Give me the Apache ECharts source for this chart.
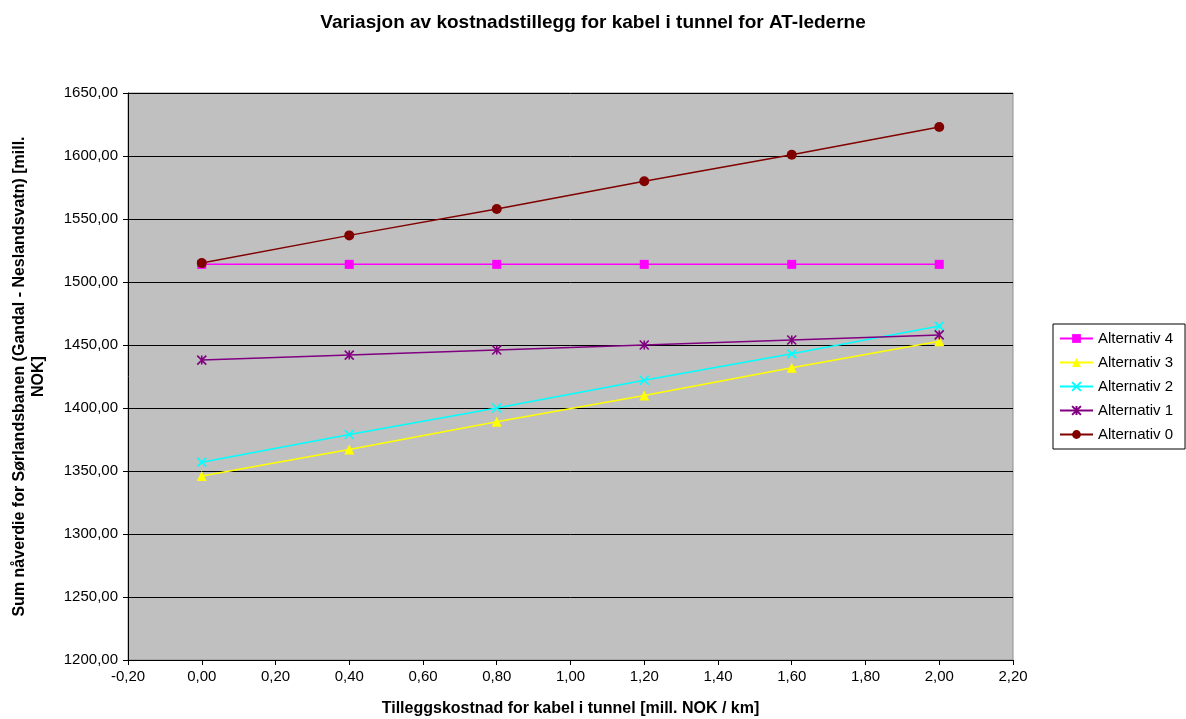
<!DOCTYPE html>
<html><head><meta charset="utf-8">
<script src="https://cdn.jsdelivr.net/npm/echarts@6/dist/echarts.min.js"></script>
<style>html,body{margin:0;padding:0;background:#fff}#c{width:1186px;height:719px}</style>
</head><body><div id="c"></div>
<script>
const xValues = [0, 0.4, 0.8, 1.2, 1.6, 2.0];
const alt4 = [1514, 1514, 1514, 1514, 1514, 1514];
const alt3 = [1346, 1367, 1389, 1410, 1432, 1453];
const alt2 = [1357, 1379, 1400, 1422, 1443, 1465];
const alt1 = [1438, 1442, 1446, 1450, 1454, 1458];
const alt0 = [1515, 1537, 1558, 1580, 1601, 1623];
const seriesNames = ['Alternativ 4', 'Alternativ 3', 'Alternativ 2', 'Alternativ 1', 'Alternativ 0'];
const titleText = 'Variasjon av kostnadstillegg for kabel i tunnel for AT-lederne';
const xName = 'Tilleggskostnad for kabel i tunnel [mill. NOK / km]';
const yName = 'Sum nåverdie for Sørlandsbanen (Gandal - Neslandsvatn) [mill.\nNOK]';

const FONT = '"Liberation Sans", Arial, sans-serif';
const pair = arr => xValues.map((x, i) => [x, arr[i]]);
const fmt = v => v.toFixed(2).replace('.', ',');
const CROSS = 'path://M0,0L10,10M10,0L0,10';
const STAR = 'path://M0,0L10,10M10,0L0,10M5,0L5,10';

function mk(name, data, color, symbol, size, stroke) {
  return {
    name, type: 'line', data: pair(data), symbol, symbolSize: size,
    lineStyle: { color, width: 1.5 },
    itemStyle: stroke ? { color: 'rgba(0,0,0,0)', borderColor: color, borderWidth: 1.6 } : { color },
    emphasis: { disabled: true }, animation: false
  };
}

const chart = echarts.init(document.getElementById('c'));
chart.setOption({
  backgroundColor: '#fff',
  animation: false,
  title: { text: titleText, left: 'center', top: 8, textStyle: { fontFamily: FONT, fontSize: 19, fontWeight: 'bold', color: '#000' } },
  grid: { left: 128, right: 173, top: 93, bottom: 59, containLabel: false, outerBoundsMode: 'none', show: true, backgroundColor: '#c0c0c0', borderColor: '#909090', borderWidth: 1 },
  legend: {
    orient: 'vertical', left: 1053, top: 324, width: 132,
    backgroundColor: '#fff', borderColor: '#000', borderWidth: 1,
    padding: [7, 12, 7, 6], itemGap: 9, itemWidth: 33, itemHeight: 11,
    textStyle: { fontFamily: FONT, fontSize: 15, color: '#000' },
    data: seriesNames
  },
  xAxis: {
    type: 'value', min: -0.2, max: 2.2, interval: 0.2,
    name: xName, nameLocation: 'middle', nameGap: 41,
    nameTextStyle: { fontFamily: FONT, fontSize: 16, fontWeight: 'bold', color: '#000' },
    axisLine: { onZero: false, lineStyle: { color: '#000' } },
    axisTick: { show: true, length: 5, lineStyle: { color: '#000' } },
    axisLabel: { fontFamily: FONT, fontSize: 15, color: '#000', formatter: fmt, margin: 9 },
    splitLine: { show: false }
  },
  yAxis: {
    type: 'value', min: 1200, max: 1650, interval: 50,
    name: yName, nameLocation: 'middle', nameGap: 80, nameRotate: 90,
    nameTextStyle: { fontFamily: FONT, fontSize: 16, fontWeight: 'bold', color: '#000', lineHeight: 19, align: 'center' },
    axisLine: { show: true, onZero: false, lineStyle: { color: '#000' } },
    axisTick: { show: true, length: 5, lineStyle: { color: '#000' } },
    axisLabel: { fontFamily: FONT, fontSize: 15, color: '#000', formatter: fmt, margin: 10 },
    splitLine: { show: true, lineStyle: { color: '#000', width: 1 } }
  },
  series: [
    mk(seriesNames[0], alt4, '#ff00ff', 'rect', 9, false),
    mk(seriesNames[1], alt3, '#ffff00', 'triangle', 10, false),
    mk(seriesNames[2], alt2, '#00ffff', CROSS, 9, true),
    mk(seriesNames[3], alt1, '#800080', STAR, 9, true),
    mk(seriesNames[4], alt0, '#800000', 'circle', 10, false)
  ]
});
</script></body></html>
